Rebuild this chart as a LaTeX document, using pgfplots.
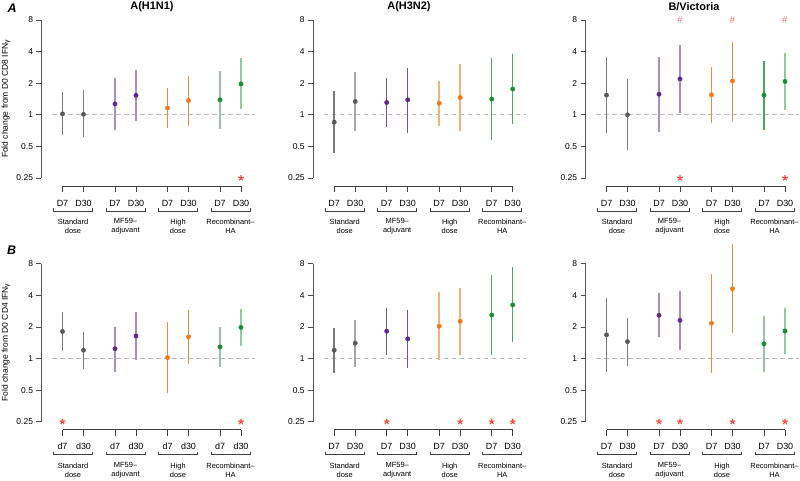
\documentclass[border=0pt]{standalone}
\usepackage{fontspec}
\setmainfont{Liberation Sans}
\usepackage{pgfplots}
\pgfplotsset{compat=1.18}

\definecolor{gP}{HTML}{5A5A5A}
\definecolor{gL}{HTML}{7A7A7A}
\definecolor{gLL}{HTML}{A6A6A6}
\definecolor{pP}{HTML}{5B2A8C}
\definecolor{pL}{HTML}{7150A3}
\definecolor{pLL}{HTML}{A98CC8}
\definecolor{oP}{HTML}{F07A1A}
\definecolor{oL}{HTML}{F58C34}
\definecolor{oLL}{HTML}{F8B07A}
\definecolor{rP}{HTML}{1E8A3A}
\definecolor{rL}{HTML}{4BA65B}
\definecolor{rLL}{HTML}{92C89C}
\definecolor{starc}{HTML}{EC4A3C}
\definecolor{hashc}{HTML}{F07A70}

\tikzset{
  gthin/.style={draw=gL, line width=1.5bp},
  gthick/.style={draw=gLL, line width=2.5bp},
  pthin/.style={draw=pL, line width=1.5bp},
  pthick/.style={draw=pLL, line width=2.5bp},
  othin/.style={draw=oL, line width=1.5bp},
  othick/.style={draw=oLL, line width=2.5bp},
  rthin/.style={draw=rL, line width=1.5bp},
  rthick/.style={draw=rLL, line width=2.5bp},
  axl/.style={draw=black!75, line width=0.9bp},
}

\pgfplotsset{
  every axis/.append style={
    scale only axis, width=214.2bp, height=158bp, anchor=south west,
    xmin=-1, xmax=9.2, ymin=0.25, ymax=8,
    ymode=log, log basis y=2,
    axis x line=none, axis y line*=left,
    y axis line style={draw=black!65, line width=1.1bp, -},
    ytick={0.25,0.5,1,2,4,8}, yticklabels={0.25,0.5,1,2,4,8},
    tick align=outside, major tick length=5bp,
    tick style={draw=black!70, line width=0.8bp},
    yticklabel style={font=\fontsize{8.5}{10}\selectfont},
    /pgf/number format/assume math mode=true,
    clip=false,
  },
}

% one confidence interval: style, x, low, high
\newcommand\ci[4]{\addplot[#1] coordinates {(#2,#3) (#2,#4)};}
\newcommand\refline{\addplot[draw=black!28, line width=0.8bp, dash pattern=on 4.5bp off 3.5bp] coordinates {(-0.5,1) (9.15,1)};}
\newcommand\pts[2]{\addplot[only marks, mark=*, mark size=2.2bp, color=#1] coordinates {#2};}
\newcommand\stars[1]{\addplot[only marks, mark=star, mark size=3bp, color=starc, line width=1.1bp] coordinates {#1};}

\newcommand\dlab{\fontsize{9}{10}\selectfont}
\newcommand\glab{\fontsize{7.5}{9.3}\selectfont}

% x decoration below a panel: x of xmin, y of 0.25, labels
\newcommand\xdeco[4]{%
\begin{scope}[shift={(#1,#2)}, x=21bp, y=1bp]
  \draw[axl] (1,-8) -- (9.5,-8);
  \foreach \p in {1,2,3.5,4.5,6,7,8.5,9.5}{\draw[axl] (\p,-8) -- (\p,-14);}
  \foreach \p in {1,3.5,6,8.5}{
    \node[font=\dlab, inner sep=0pt] at (\p,-25) {#3};
    \node[font=\dlab, inner sep=0pt] at (\p+1,-25) {#4};
    \draw[axl, line width=0.8bp] (\p-0.43,-30) -- (\p-0.43,-33) -- (\p+1.43,-33) -- (\p+1.43,-30);
  }
  \node[font=\glab, align=center, inner sep=0pt] at (1.5,-48.5) {Standard\\dose};
  \node[font=\glab, align=center, inner sep=0pt] at (4,-48.5) {MF59–\\adjuvant};
  \node[font=\glab, align=center, inner sep=0pt] at (6.5,-48.5) {High\\dose};
  \node[font=\glab, align=center, inner sep=0pt] at (9,-48.5) {Recombinant–\\HA};
\end{scope}}

\begin{document}
\begin{tikzpicture}
\path[use as bounding box] (0,0) rectangle (800bp,-481bp);

% ---------- top row: CD8 ----------
\begin{axis}[at={(41.5bp,-178bp)}]
  \refline
  \ci{gthin}{0}{0.64}{1.65}
  \ci{gthin}{1}{0.61}{1.74}
  \ci{pthick}{2.5}{0.72}{2.23}
  \ci{pthick}{3.5}{0.88}{2.66}
  \ci{othin}{5}{0.75}{1.80}
  \ci{othin}{6}{0.78}{2.35}
  \ci{rthick}{7.5}{0.73}{2.62}
  \ci{rthick}{8.5}{1.13}{3.44}
  \pts{gP}{(0,1.02) (1,1.01)}
  \pts{pP}{(2.5,1.27) (3.5,1.53)}
  \pts{oP}{(5,1.16) (6,1.37)}
  \pts{rP}{(7.5,1.39) (8.5,1.97)}
  \stars{(8.5,0.25)}
\end{axis}

\begin{axis}[at={(313.2bp,-178bp)}]
  \refline
  \ci{gthin}{0}{0.43}{1.67}
  \ci{gthick}{1}{0.70}{2.56}
  \ci{pthin}{2.5}{0.76}{2.26}
  \ci{pthin}{3.5}{0.67}{2.82}
  \ci{othick}{5}{0.78}{2.12}
  \ci{othick}{6}{0.70}{3.03}
  \ci{rthin}{7.5}{0.58}{3.44}
  \ci{rthin}{8.5}{0.81}{3.81}
  \pts{gP}{(0,0.85) (1,1.34)}
  \pts{pP}{(2.5,1.31) (3.5,1.39)}
  \pts{oP}{(5,1.29) (6,1.46)}
  \pts{rP}{(7.5,1.41) (8.5,1.76)}
\end{axis}

\begin{axis}[at={(585.5bp,-178bp)}]
  \refline
  \ci{gthin}{0}{0.67}{3.52}
  \ci{gthin}{1}{0.46}{2.20}
  \ci{pthick}{2.5}{0.69}{3.52}
  \ci{pthick}{3.5}{1.05}{4.62}
  \ci{othin}{5}{0.84}{2.84}
  \ci{othin}{6}{0.88}{4.96}
  \ci{rthin}{7.5}{0.72}{3.24}
  \ci{rthick}{8.5}{1.10}{3.90}
  \pts{gP}{(0,1.54) (1,1.00)}
  \pts{pP}{(2.5,1.57) (3.5,2.20)}
  \pts{oP}{(5,1.55) (6,2.10)}
  \pts{rP}{(7.5,1.54) (8.5,2.08)}
  \stars{(3.5,0.25) (8.5,0.25)}
  \addplot[only marks, mark=text, text mark={\textcolor{hashc}{\fontsize{10}{10}\selectfont\#}}]
    coordinates {(3.5,8) (6,8) (8.5,8)};
\end{axis}

% ---------- bottom row: CD4 ----------
\begin{axis}[at={(41.5bp,-421.7bp)}]
  \refline
  \ci{gthin}{0}{1.18}{2.78}
  \ci{gthin}{1}{0.79}{1.79}
  \ci{pthick}{2.5}{0.75}{2.01}
  \ci{pthick}{3.5}{0.96}{2.78}
  \ci{othin}{5}{0.47}{2.23}
  \ci{othin}{6}{0.88}{2.90}
  \ci{rthick}{7.5}{0.83}{2.01}
  \ci{rthick}{8.5}{1.32}{2.99}
  \pts{gP}{(0,1.81) (1,1.20)}
  \pts{pP}{(2.5,1.24) (3.5,1.64)}
  \pts{oP}{(5,1.02) (6,1.61)}
  \pts{rP}{(7.5,1.29) (8.5,1.98)}
  \stars{(0,0.25) (8.5,0.25)}
\end{axis}

\begin{axis}[at={(313.2bp,-421.7bp)}]
  \refline
  \ci{gthin}{0}{0.72}{1.96}
  \ci{gthick}{1}{0.83}{2.32}
  \ci{pthin}{2.5}{1.08}{3.05}
  \ci{pthin}{3.5}{0.81}{2.90}
  \ci{othick}{5}{0.97}{4.30}
  \ci{othick}{6}{1.07}{4.66}
  \ci{rthin}{7.5}{1.09}{6.18}
  \ci{rthin}{8.5}{1.43}{7.38}
  \pts{gP}{(0,1.20) (1,1.40)}
  \pts{pP}{(2.5,1.82) (3.5,1.54)}
  \pts{oP}{(5,2.03) (6,2.26)}
  \pts{rP}{(7.5,2.59) (8.5,3.24)}
  \stars{(2.5,0.25) (6,0.25) (7.5,0.25) (8.5,0.25)}
\end{axis}

\begin{axis}[at={(585.5bp,-421.7bp)}]
  \refline
  \ci{gthin}{0}{0.74}{3.79}
  \ci{gthin}{1}{0.84}{2.45}
  \ci{pthick}{2.5}{1.59}{4.17}
  \ci{pthick}{3.5}{1.21}{4.39}
  \ci{othin}{5}{0.73}{6.40}
  \ci{othin}{6}{1.74}{12.2}
  \ci{rthick}{7.5}{0.74}{2.56}
  \ci{rthick}{8.5}{1.11}{3.03}
  \pts{gP}{(0,1.68) (1,1.45)}
  \pts{pP}{(2.5,2.58) (3.5,2.31)}
  \pts{oP}{(5,2.17) (6,4.62)}
  \pts{rP}{(7.5,1.38) (8.5,1.83)}
  \stars{(2.5,0.25) (3.5,0.25) (6,0.25) (8.5,0.25)}
\end{axis}

% x axes, labels and group brackets
\xdeco{41.5bp}{-178bp}{D7}{D30}
\xdeco{313.2bp}{-178bp}{D7}{D30}
\xdeco{585.5bp}{-178bp}{D7}{D30}
\xdeco{41.5bp}{-421.7bp}{d7}{d30}
\xdeco{313.2bp}{-421.7bp}{D7}{D30}
\xdeco{585.5bp}{-421.7bp}{D7}{D30}

% titles, panel letters, y labels
\node[font=\fontsize{11}{12}\selectfont\bfseries] at (152bp,-7bp) {A(H1N1)};
\node[font=\fontsize{11}{12}\selectfont\bfseries] at (409bp,-7bp) {A(H3N2)};
\node[font=\fontsize{11}{12}\selectfont\bfseries] at (694bp,-7bp) {B/Victoria};
\node[font=\fontsize{12.5}{13}\selectfont\bfseries\itshape] at (12bp,-8.5bp) {A};
\node[font=\fontsize{12.5}{13}\selectfont\bfseries\itshape] at (11.5bp,-250bp) {B};
\node[font=\fontsize{8.5}{9}\selectfont, rotate=90, inner sep=0pt] at (6bp,-99bp) {Fold change from D0 CD8 IFN\raisebox{-0.25ex}{\fontsize{7}{7}\selectfont γ}};
\node[font=\fontsize{8.5}{9}\selectfont, rotate=90, inner sep=0pt] at (6bp,-342.5bp) {Fold change from D0 CD4 IFN\raisebox{-0.25ex}{\fontsize{7}{7}\selectfont γ}};
\end{tikzpicture}
\end{document}
